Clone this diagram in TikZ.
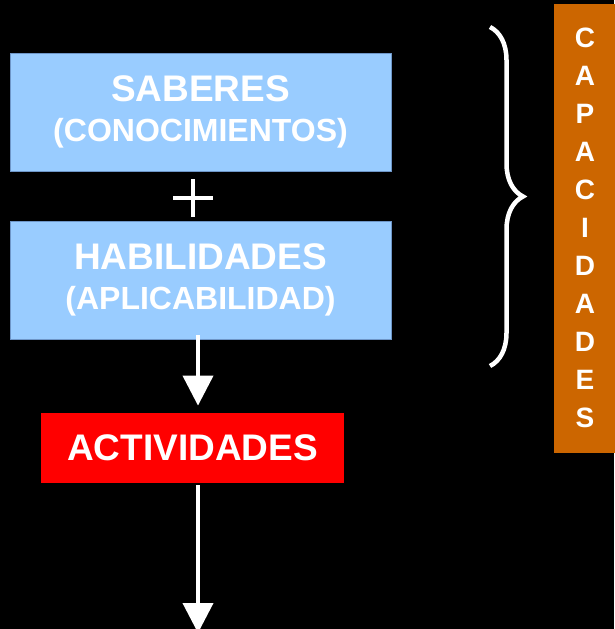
\documentclass[tikz,border=0pt]{standalone}
\usepackage{fontspec}
\setmainfont{Liberation Sans}
\usepackage{tikz}
\usetikzlibrary{positioning,arrows.meta,decorations.pathreplacing,calc}
\definecolor{colorwhite}       {RGB}{255,255,255}
\definecolor{colorblack}       {RGB}{  0,  0,  0}
\definecolor{colorsaberes}     {RGB}{153,204,255}
\definecolor{colorborder}      {RGB}{110,150,200}
\definecolor{coloractividades} {RGB}{255,  0,  0}
\definecolor{colorcapacidades} {RGB}{204,102,  0}

\begin{document}
\begin{tikzpicture}[
    x=1pt, y=-1pt, thick,
    title/.style={text=colorwhite,font={\fontsize{32}{40}\selectfont\bfseries},align=center,inner sep=0pt},
    saber/.style={title,fill=colorsaberes,draw=colorborder,line width=0.8pt,minimum width=381pt,minimum height=118pt},
    activ/.style={title,fill=coloractividades,minimum width=303pt,minimum height=70pt},
    capbox/.style={text=colorwhite,font={\fontsize{28}{38}\selectfont\bfseries},align=center,inner sep=0pt,
        fill=colorcapacidades,minimum width=62pt,minimum height=449pt},
    flecha/.style={-{Triangle[width=30pt,length=30pt]},colorwhite,line width=4pt},
    plus/.style={colorwhite,line width=3.6pt},
    llave/.style={colorwhite,line width=4.5pt,decorate,decoration={brace,amplitude=33pt}},
]

    % Background
    \fill[colorblack] (0,0) rectangle (614,629);
    \useasboundingbox (0,0) rectangle (614,629);

    % Saberes
    \node[saber] at (200.5,112) (sab) {{\fontsize{37}{40}\selectfont SABERES}\\(CONOCIMIENTOS)};

    % Plus
    \coordinate (mas) at (193,198);
    \draw[plus] ($(mas)+(-20,0)$) -- ++(40,0);
    \draw[plus] ($(mas)+(0,-19)$) -- ++(0,38);

    % Habilidades
    \node[saber] at (200.5,280) (hab) {{\fontsize{37}{40}\selectfont HABILIDADES}\\(APLICABILIDAD)};

    % Actividades
    \node[activ] at (192.5,448) (act) {\fontsize{37}{38}\selectfont ACTIVIDADES};

    % Capacidades
    \node[capbox] at (585,228) (cap) {C\\A\\P\\A\\C\\I\\D\\A\\D\\E\\S};

    % Brace
    \coordinate (llavetop) at (490,27);
    \coordinate (llavebot) at (490,366);
    \draw[llave] (llavetop) -- (llavebot);

    % Arrows
    \coordinate (eje) at (198,0);
    \coordinate (fin) at (198,633);
    \draw[flecha] ([yshift=4pt]hab.south -| eje) -- ([yshift=7pt]act.north -| eje); % habilidades to actividades
    \draw[flecha] ([yshift=-2pt]act.south -| eje) -- (fin); % actividades down

\end{tikzpicture}
\end{document}
